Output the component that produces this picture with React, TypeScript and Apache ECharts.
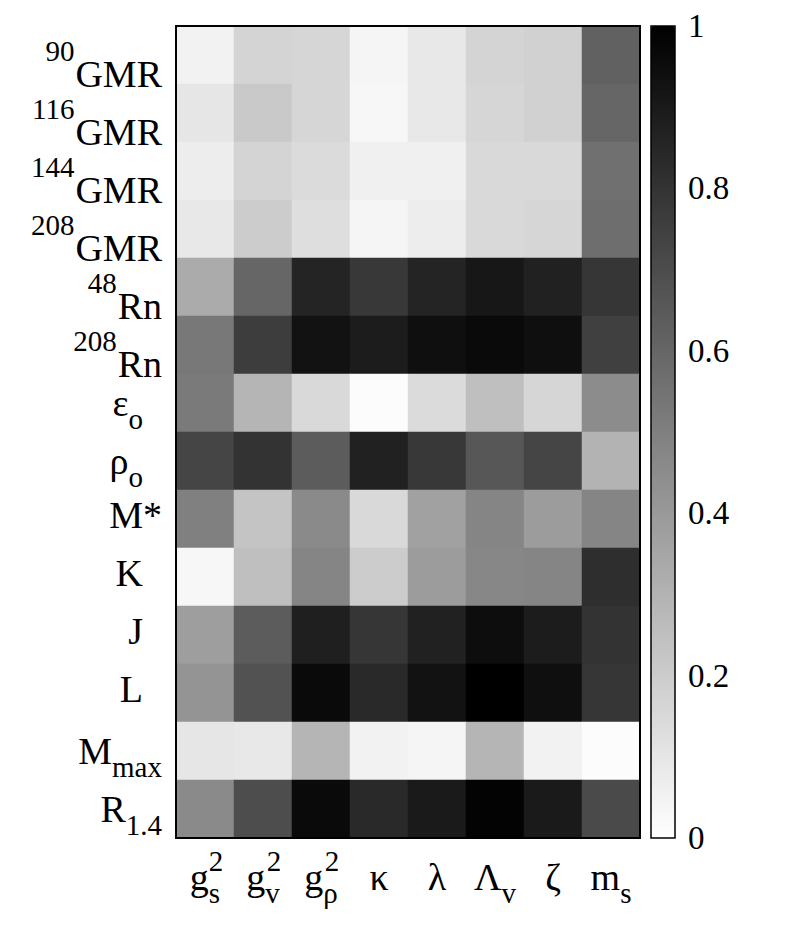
import React, { useEffect, useRef } from 'react';
import * as echarts from 'echarts';

// ---- tick labels ----
const xBase = ['g', 'g', 'g', 'κ', 'λ', 'Λ', 'ζ', 'm'];
const xSub = ['s', 'v', 'ρ', '', '', 'v', '', 's'];
const xSup = ['2', '2', '2', '', '', '', '', ''];
const xCategories = ['gs2', 'gv2', 'grho2', 'kappa', 'lambda', 'Lambdav', 'zeta', 'ms'];

const yBase = ['GMR', 'GMR', 'GMR', 'GMR', 'Rn', 'Rn', 'ε', 'ρ', 'M*', 'K', 'J', 'L', 'M', 'R'];
const ySup = ['90', '116', '144', '208', '48', '208', '', '', '', '', '', '', '', ''];
const ySub = ['', '', '', '', '', '', 'o', 'o', '', '', '', '', 'max', '1.4'];
const yCategories = ['90GMR', '116GMR', '144GMR', '208GMR', '48Rn', '208Rn', 'eps0', 'rho0', 'Mstar', 'K', 'J', 'L', 'Mmax', 'R14'];
const insetLabels = new Set(['K', 'J', 'L', 'ε', 'ρ']);

// ---- values (columns: gs2, gv2, grho2, kappa, lambda, Lambdav, zeta, ms) ----
const r90GMR = [0.05, 0.17, 0.16, 0.04, 0.09, 0.17, 0.18, 0.62];
const r116GMR = [0.10, 0.21, 0.16, 0.03, 0.09, 0.16, 0.18, 0.60];
const r144GMR = [0.07, 0.17, 0.14, 0.06, 0.06, 0.15, 0.15, 0.56];
const r208GMR = [0.09, 0.20, 0.13, 0.04, 0.07, 0.15, 0.16, 0.57];
const r48Rn = [0.33, 0.60, 0.86, 0.78, 0.86, 0.91, 0.87, 0.79];
const r208Rn = [0.53, 0.76, 0.93, 0.89, 0.94, 0.96, 0.94, 0.75];
const rEps0 = [0.52, 0.29, 0.15, 0.01, 0.14, 0.25, 0.16, 0.45];
const rRho0 = [0.73, 0.80, 0.64, 0.87, 0.78, 0.66, 0.73, 0.30];
const rMstar = [0.50, 0.23, 0.46, 0.15, 0.37, 0.48, 0.39, 0.48];
const rK = [0.03, 0.25, 0.48, 0.20, 0.39, 0.47, 0.48, 0.82];
const rJ = [0.38, 0.64, 0.88, 0.79, 0.87, 0.95, 0.89, 0.80];
const rL = [0.42, 0.68, 0.96, 0.84, 0.93, 1.00, 0.94, 0.79];
const rMmax = [0.10, 0.09, 0.29, 0.05, 0.04, 0.29, 0.05, 0.01];
const rR14 = [0.46, 0.70, 0.96, 0.84, 0.90, 0.99, 0.90, 0.71];
const rows = [r90GMR, r116GMR, r144GMR, r208GMR, r48Rn, r208Rn, rEps0, rRho0, rMstar, rK, rJ, rL, rMmax, rR14];

const colorbarMin = 0;
const colorbarMax = 1;
const colorbarStep = 0.2;

const FONT = 'Liberation Serif, Times New Roman, serif';

export default function App() {
  const ref = useRef<HTMLDivElement>(null);

  useEffect(() => {
    if (!ref.current) return;
    const chart = echarts.init(ref.current, undefined, { renderer: 'svg' });

    const data: [number, number, number][] = [];
    rows.forEach((row, yi) => row.forEach((v, xi) => data.push([xi, yi, v])));

    const option: any = {
      animation: false,
      backgroundColor: '#ffffff',
      textStyle: { fontFamily: FONT, color: '#000' },
      grid: [
        { left: 176, top: 26, width: 464, height: 812, show: true, borderColor: '#000', borderWidth: 2, backgroundColor: 'transparent', z: 10 },
        { left: 651, top: 26, width: 24, height: 812, show: true, borderColor: '#000', borderWidth: 1.5, backgroundColor: 'transparent', z: 10 },
      ],
      xAxis: [
        {
          gridIndex: 0,
          type: 'category',
          data: xCategories,
          position: 'bottom',
          axisLine: { show: false },
          axisTick: { show: false },
          splitLine: { show: false },
          axisLabel: {
            interval: 0,
            margin: 20,
            color: '#000',
            fontFamily: FONT,
            formatter: (_v: string, i: number) =>
              `{b|${xBase[i]}}` + (xSub[i] ? `{s|${xSub[i]}}` : ''),
            rich: {
              b: { fontFamily: FONT, fontSize: 38, lineHeight: 38, verticalAlign: 'top', color: '#000' },
              s: { fontFamily: FONT, fontSize: 29, lineHeight: 29, verticalAlign: 'top', padding: [20.5, 0, 0, 0], color: '#000' },
            },
          },
        },
        {
          gridIndex: 0,
          type: 'category',
          data: xCategories,
          position: 'bottom',
          axisLine: { show: false },
          axisTick: { show: false },
          splitLine: { show: false },
          axisLabel: {
            interval: 0,
            margin: 8,
            color: '#000',
            fontFamily: FONT,
            formatter: (_v: string, i: number) => (xSup[i] ? `{p|${xSup[i]}}` : ''),
            rich: {
              p: { fontFamily: FONT, fontSize: 29, lineHeight: 29, padding: [0, 0, 0, 22], color: '#000' },
            },
          },
        },
        { gridIndex: 1, type: 'value', show: false, min: 0, max: 1 },
      ],
      yAxis: [
        {
          gridIndex: 0,
          type: 'category',
          data: yCategories,
          inverse: true,
          axisLine: { show: false },
          axisTick: { show: false },
          splitLine: { show: false },
          axisLabel: {
            interval: 0,
            margin: 14,
            color: '#000',
            fontFamily: FONT,
            formatter: (_v: string, i: number) => {
              const inset = insetLabels.has(yBase[i]);
              if (ySup[i]) return `{ysup|${ySup[i]}}{ybase|${yBase[i]}}`;
              if (ySub[i]) return `{b|${yBase[i]}}{${inset ? 'subI' : 'sub'}|${ySub[i]}}`;
              return `{${inset ? 'pI' : 'p'}|${yBase[i]}}`;
            },
            rich: {
              ysup: { fontFamily: FONT, fontSize: 29, lineHeight: 26, verticalAlign: 'top', padding: [0, 1, 54, 0], color: '#000' },
              ybase: { fontFamily: FONT, fontSize: 38, lineHeight: 38, verticalAlign: 'top', padding: [18.5, 0, 0, 0], color: '#000' },
              b: { fontFamily: FONT, fontSize: 38, lineHeight: 38, verticalAlign: 'top', color: '#000' },
              sub: { fontFamily: FONT, fontSize: 29, lineHeight: 29, verticalAlign: 'top', padding: [20.5, 0, 0, 0], color: '#000' },
              subI: { fontFamily: FONT, fontSize: 29, lineHeight: 29, verticalAlign: 'top', padding: [20.5, 19, 0, 0], color: '#000' },
              p: { fontFamily: FONT, fontSize: 38, lineHeight: 38, padding: [0, 0, 8, 0], color: '#000' },
              pI: { fontFamily: FONT, fontSize: 38, lineHeight: 38, padding: [0, 19, 8, 0], color: '#000' },
            },
          },
        },
        {
          gridIndex: 1,
          type: 'value',
          position: 'right',
          min: colorbarMin,
          max: colorbarMax,
          interval: colorbarStep,
          axisLine: { show: false },
          axisTick: { show: false },
          splitLine: { show: false },
          axisLabel: {
            margin: 13,
            color: '#000',
            fontFamily: FONT,
            fontSize: 33,
            padding: [0, 0, 7, 0],
          },
        },
      ],
      visualMap: {
        type: 'continuous',
        min: colorbarMin,
        max: colorbarMax,
        seriesIndex: 0,
        calculable: false,
        orient: 'vertical',
        left: 651,
        top: 26,
        itemWidth: 24,
        itemHeight: 812,
        padding: 0,
        inRange: { color: ['#ffffff', '#000000'] },
        textStyle: { color: 'transparent' },
      },
      series: [
        {
          type: 'heatmap',
          xAxisIndex: 0,
          yAxisIndex: 0,
          data,
          itemStyle: { borderWidth: 0 },
          emphasis: { disabled: true },
        },
      ],
    };

    chart.setOption(option);
    return () => chart.dispose();
  }, []);

  return (
    <div
      ref={ref}
      style={{ position: 'absolute', left: 0, top: 0, width: 788, height: 939, background: '#fff' }}
    />
  );
}
